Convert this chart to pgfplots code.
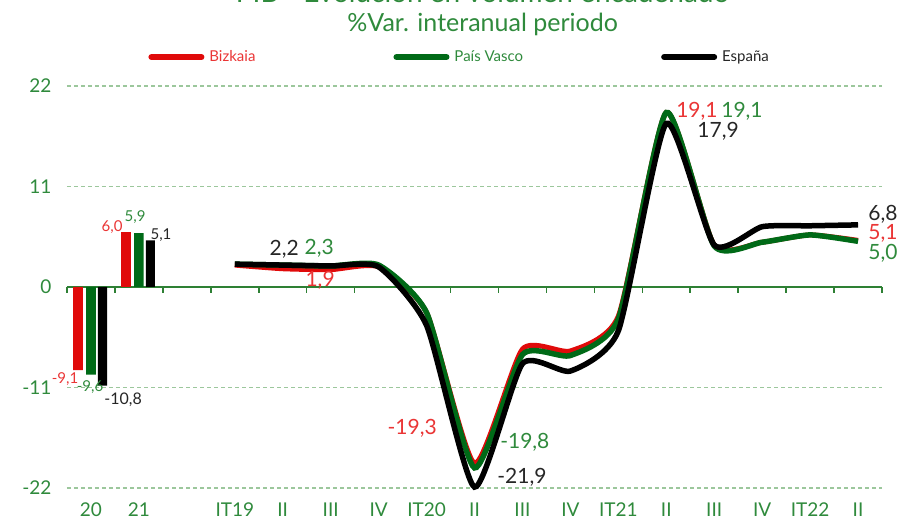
\documentclass[border=0pt]{standalone}
\usepackage{pgfplots}
\pgfplotsset{compat=1.18}
\usepackage{pgfplotstable}
\usepackage{fontspec}
\setmainfont{Lato}
\definecolor{cRed}{HTML}{E00A0A}
\definecolor{cGreen}{HTML}{006A17}
\definecolor{tRed}{HTML}{EA3535}
\definecolor{tGreen}{HTML}{2F8A3C}
\definecolor{tBlack}{HTML}{262626}
\definecolor{axGreen}{HTML}{2E8034}
\definecolor{gridGreen}{HTML}{9CC79C}

\pgfplotstableread{
x biz pv esp
3 2.4 2.5 2.5
4 2.0 2.4 2.4
5 1.9 2.3 2.3
6 2.2 2.4 2.2
7 -2.8 -2.8 -4.2
8 -19.3 -19.8 -21.9
9 -6.8 -7.4 -8.4
10 -7.0 -7.5 -9.2
11 -3.2 -3.5 -4.8
12 19.1 19.1 17.9
13 4.6 4.5 4.6
14 4.9 4.9 6.6
15 5.7 5.7 6.7
16 5.1 5.0 6.8
}\lines

\newcommand{\fs}[1]{\fontsize{#1}{#1}\selectfont}

\begin{document}
\begin{tikzpicture}
\begin{axis}[
  scale only axis, width=815pt, height=402pt,
  xmin=-0.5, xmax=16.5, ymin=-22, ymax=22,
  axis line style={draw=none},
  xtick={0,1,3,4,5,6,7,8,9,10,11,12,13,14,15,16},
  xticklabels={20,21,IT19,II,III,IV,IT20,II,III,IV,IT21,II,III,IV,IT22,II},
  ytick={-22,-11,0,11,22},
  yticklabels={-22,-11,0,11,22},
  major tick length=0pt,
  ymajorgrids,
  grid style={gridGreen, line width=1.3pt, dash pattern=on 4pt off 3pt},
  tick label style={font=\fs{19}, text=tGreen},
  yticklabel style={xshift=-12pt},
  xticklabel style={yshift=-11pt},
  clip=false,
  legend columns=3,
  legend style={at={(0.096,1.072)}, anchor=west, draw=none, fill=none,
    font=\fs{15}, /tikz/every odd column/.append style={column sep=3pt},
    /tikz/every even column/.append style={column sep=136pt}},
  legend image code/.code={\draw[#1, line width=6pt, line cap=round] (0pt,0pt) -- (50pt,0pt);},
]
\coordinate (bl) at (rel axis cs:0,0);
\coordinate (tr) at (rel axis cs:1,1);
\draw[axGreen, line width=1.5pt] (axis cs:-0.5,0) -- (axis cs:16.5,0);
\pgfplotsinvokeforeach{-0.5,0.5,1.5,2.5,3.5,4.5,5.5,6.5,7.5,8.5,9.5,10.5,11.5,12.5,13.5,14.5,15.5,16.5}{
  \draw[axGreen, line width=1.5pt] (axis cs:#1,0) -- ([yshift=-6pt]axis cs:#1,0);
}
\addplot[ybar, bar width=0.2, bar shift=-0.27, fill=cRed, draw=none, forget plot] coordinates {(0,-9.1) (1,6.0)};
\addplot[ybar, bar width=0.2, bar shift=0, fill=cGreen, draw=none, forget plot] coordinates {(0,-9.6) (1,5.9)};
\addplot[ybar, bar width=0.19, bar shift=0.24, fill=black, draw=none, forget plot] coordinates {(0,-10.8) (1,5.1)};

\addplot[cRed, line width=5pt, smooth, tension=0.35] table[x=x,y=biz]{\lines};
\addplot[cGreen, line width=5.5pt, smooth, tension=0.35] table[x=x,y=pv]{\lines};
\addplot[black, line width=5.5pt, smooth, tension=0.35] table[x=x,y=esp]{\lines};
\legend{\textcolor{tRed}{Bizkaia},\textcolor{tGreen}{País Vasco},\textcolor{tBlack}{España}}

% bar labels
\node[inner sep=0pt, font=\fs{15}, text=tRed] at (axis cs:-0.54,-10.04) {-9,1};
\node[inner sep=0pt, font=\fs{15}, text=tGreen] at (axis cs:-0.02,-11.0) {-9,6};
\node[inner sep=0pt, font=\fs{16}, text=tBlack] at (axis cs:0.67,-12.34) {-10,8};
\node[inner sep=0pt, font=\fs{15}, text=tRed] at (axis cs:0.44,6.6) {6,0};
\node[inner sep=0pt, font=\fs{15}, text=tGreen] at (axis cs:0.92,7.6) {5,9};
\node[inner sep=0pt, font=\fs{15}, text=tBlack] at (axis cs:1.46,5.73) {5,1};
% line labels
\node[inner sep=0pt, font=\fs{21}, text=tBlack] at (axis cs:4.03,4.09) {2,2};
\node[inner sep=0pt, font=\fs{21}, text=tGreen] at (axis cs:4.76,4.19) {2,3};
\node[inner sep=0pt, font=\fs{21}, text=tRed] at (axis cs:4.78,0.69) {1,9};
\node[inner sep=0pt, font=\fs{21}, text=tRed] at (axis cs:6.70,-15.52) {-19,3};
\node[inner sep=0pt, font=\fs{21}, text=tGreen] at (axis cs:9.05,-17.05) {-19,8};
\node[inner sep=0pt, font=\fs{21}, text=tBlack] at (axis cs:8.99,-20.78) {-21,9};
\node[inner sep=0pt, font=\fs{21}, text=tRed] at (axis cs:12.64,19.2) {19,1};
\node[inner sep=0pt, font=\fs{21}, text=tGreen] at (axis cs:13.58,19.2) {19,1};
\node[inner sep=0pt, font=\fs{21}, text=tBlack] at (axis cs:13.08,17.0) {17,9};
\node[inner sep=0pt, font=\fs{21}, text=tBlack] at (axis cs:16.52,8.0) {6,8};
\node[inner sep=0pt, font=\fs{21}, text=tRed] at (axis cs:16.52,5.85) {5,1};
\node[inner sep=0pt, font=\fs{21}, text=tGreen] at (axis cs:16.52,3.65) {5,0};
% titles
\node[anchor=base, font=\fs{28}, text=tGreen] at (rel axis cs:0.510,1.2065) {PIB - Evolución en volumen encadenado};
\node[anchor=base, font=\fs{25}, text=tGreen] at (rel axis cs:0.510,1.1368) {\%Var. interanual periodo};
\end{axis}
\pgfresetboundingbox
\path[use as bounding box] ([shift={(-67pt,-42pt)}]bl) rectangle ([shift={(20pt,86pt)}]tr);
\end{tikzpicture}
\end{document}
